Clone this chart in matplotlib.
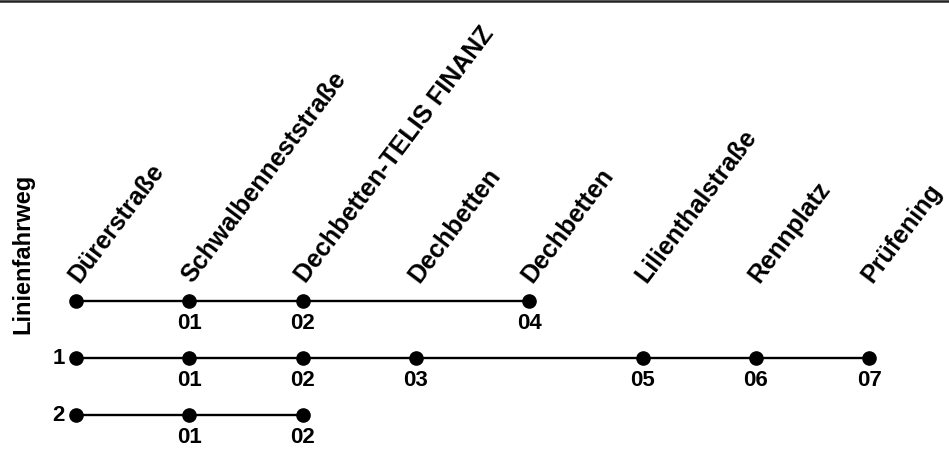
import matplotlib
matplotlib.use("Agg")
import matplotlib.pyplot as plt
from matplotlib.lines import Line2D

plt.rcParams['font.family'] = ['Liberation Sans', 'DejaVu Sans']

# stations along the route (column index = position)
stations = ["Dürerstraße", "Schwalbenneststraße", "Dechbetten-TELIS FINANZ",
            "Dechbetten", "Dechbetten", "Lilienthalstraße", "Rennplatz", "Prüfening"]

# each variant of the route: row label, served columns, stop numbers
row_labels = ["", "1", "2"]
row_stops = [
    [0, 1, 2, 4],
    [0, 1, 2, 3, 5, 6, 7],
    [0, 1, 2],
]
row_numbers = [
    ["", "01", "02", "04"],
    ["", "01", "02", "03", "05", "06", "07"],
    ["", "01", "02"],
]

fig = plt.figure(figsize=(9.49, 4.54), dpi=100)
ax = fig.add_axes([0, 0, 1, 1])
ax.set_xlim(-0.671, 7.705)
ax.set_ylim(2.684, -5.281)
ax.axis("off")

for i, name in enumerate(stations):
    ax.text(i + 0.03, -0.29, name, rotation=53, rotation_mode="anchor",
            ha="left", va="baseline", fontsize=18, fontweight="bold")

for r, (lab, cols, nums) in enumerate(zip(row_labels, row_stops, row_numbers)):
    ax.plot(cols, [r] * len(cols), "-o", color="black", lw=1.7,
            markersize=9.5, solid_capstyle="butt")
    if lab:
        ax.text(cols[0] - 0.1, r, lab, ha="right", va="center",
                fontsize=16, fontweight="bold")
    for c, n in zip(cols, nums):
        ax.text(c, r + 0.40, n, ha="center", va="center",
                fontsize=16, fontweight="bold")

fig.text(0.024, 0.44, "Linienfahrweg", rotation=90, ha="center", va="center",
         fontsize=17, fontweight="bold")

fig.add_artist(Line2D([0, 1], [0.998, 0.998], color="#222222", lw=1.8,
                      transform=fig.transFigure))

fig.savefig("out.png", dpi=100)
